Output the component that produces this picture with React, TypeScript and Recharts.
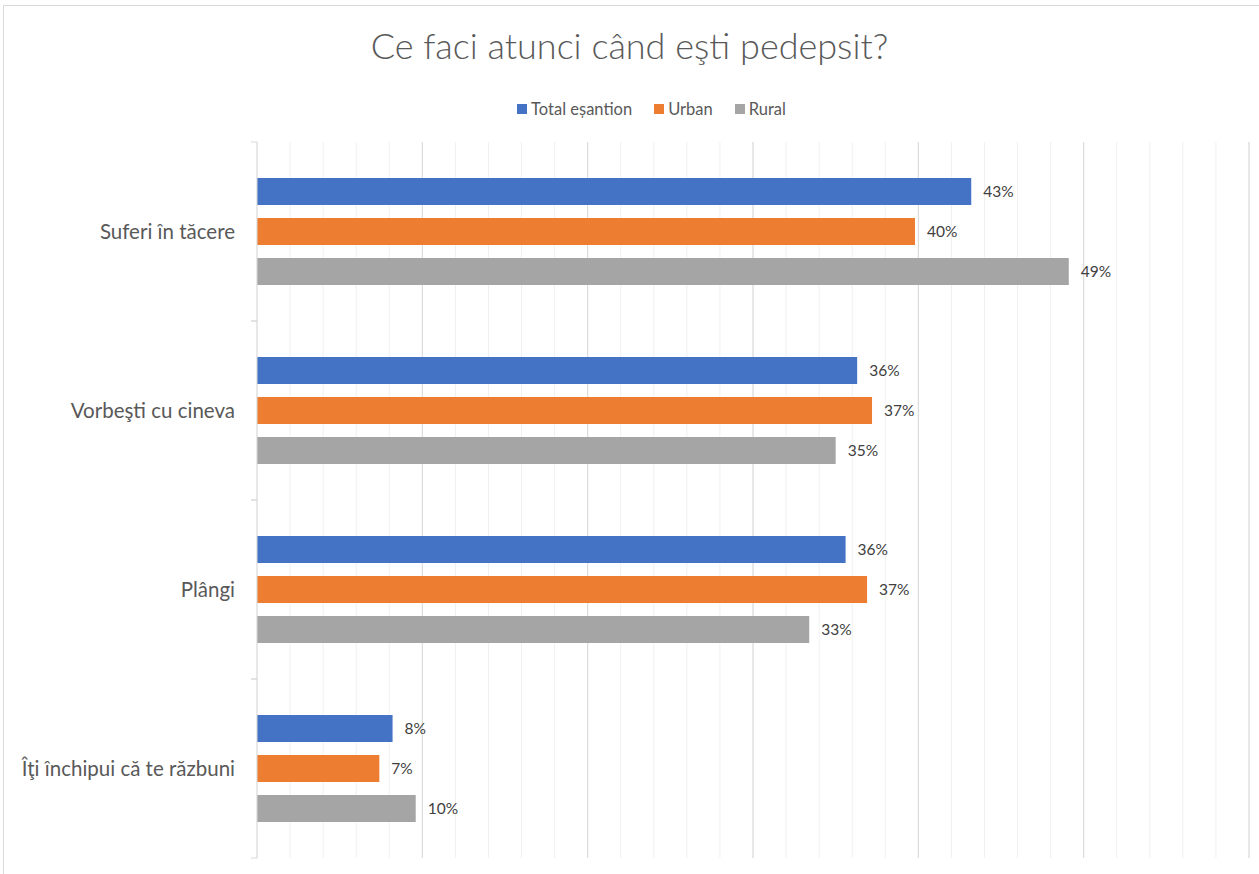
import React from "react";
import {
  BarChart,
  Bar,
  XAxis,
  YAxis,
  CartesianGrid,
  Legend,
  LabelList,
} from "recharts";

const CATEGORIES = [
  "Suferi în tăcere",
  "Vorbeşti cu cineva",
  "Plângi",
  "Îţi închipui că te răzbuni",
];
const TOTAL = [43.2, 36.3, 35.6, 8.2];
const URBAN = [39.8, 37.2, 36.9, 7.4];
const RURAL = [49.1, 35.0, 33.4, 9.6];
const SERIES_NAMES = ["Total eșantion", "Urban", "Rural"];
const SERIES_COLORS = ["#4472c4", "#ed7d31", "#a5a5a5"];
const MINOR_TICKS = [
  0, 2, 4, 6, 8, 10, 12, 14, 16, 18, 20, 22, 24, 26, 28, 30, 32, 34, 36, 38, 40,
  42, 44, 46, 48, 50, 52, 54, 56, 58, 60,
];
const MAJOR_TICKS = [10, 20, 30, 40, 50, 60];

const data = CATEGORIES.map((name, i) => ({
  name,
  total: TOTAL[i],
  urban: URBAN[i],
  rural: RURAL[i],
}));

const W = 1259;
const H = 874;
const TOP = 142;
const BOTTOM = 16;
const HALF_BAND = (H - TOP - BOTTOM) / CATEGORIES.length / 2;
const FONT = "Lato, 'Noto Sans', sans-serif";

const pct = (v: any) => `${Math.round(Number(v))}%`;

function CategoryTick(props: any) {
  const { x, y, payload } = props;
  const axisX = x + 6 + 16;
  return (
    <g>
      <line x1={axisX - 6} x2={axisX} y1={y - HALF_BAND} y2={y - HALF_BAND} stroke="#d9d9d9" />
      <line x1={axisX - 6} x2={axisX} y1={y + HALF_BAND} y2={y + HALF_BAND} stroke="#d9d9d9" />
      <text x={x} y={y} dy={7} textAnchor="end" fill="#595959" fontSize={20.5} fontFamily={FONT}>
        {payload.value}
      </text>
    </g>
  );
}

function LegendContent() {
  return (
    <div
      style={{
        display: "flex",
        justifyContent: "center",
        gap: 22,
        fontFamily: FONT,
        fontSize: 16.5,
        color: "#595959",
      }}
    >
      {SERIES_NAMES.map((n, i) => (
        <span key={n} style={{ display: "flex", alignItems: "center", gap: 4 }}>
          <span style={{ width: 10, height: 10, background: SERIES_COLORS[i], display: "inline-block" }} />
          {n}
        </span>
      ))}
    </div>
  );
}

export default function App() {
  return (
    <div style={{ position: "absolute", left: 0, top: 0, width: W, height: H, background: "#fff" }}>
      <div
        style={{
          position: "absolute",
          left: 3,
          top: 5,
          width: W - 3,
          height: H - 5,
          borderLeft: "1px solid #d9d9d9",
          borderTop: "1px solid #d9d9d9",
          boxSizing: "border-box",
        }}
      />
      <div
        style={{
          position: "absolute",
          left: 0,
          top: 23,
          width: W,
          textAlign: "center",
          fontFamily: FONT,
          fontWeight: 300,
          fontSize: 36,
          color: "#595959",
          lineHeight: "44px",
        }}
      >
        Ce faci atunci când eşti pedepsit?
      </div>
      <BarChart
        width={W}
        height={H}
        data={data}
        layout="vertical"
        margin={{ top: TOP, right: 10, bottom: BOTTOM, left: 0 }}
        barCategoryGap={36}
        barGap={13}
      >
        {/* minor gridlines every 2%, major every 10% */}
        <CartesianGrid horizontal={false} stroke="#f0f0f0" strokeWidth={1} />
        <CartesianGrid horizontal={false} stroke="#d9d9d9" strokeWidth={1} verticalValues={MAJOR_TICKS} />
        <XAxis type="number" domain={[0, 60]} ticks={MINOR_TICKS} hide />
        <YAxis
          type="category"
          dataKey="name"
          width={257}
          axisLine={{ stroke: "#d9d9d9" }}
          tickLine={false}
          tickMargin={16}
          tick={<CategoryTick />}
        />
        <Legend
          verticalAlign="middle"
          align="center"
          content={<LegendContent />}
          wrapperStyle={{ top: 99, left: 22, width: W }}
        />
        <Bar dataKey="total" name={SERIES_NAMES[0]} fill={SERIES_COLORS[0]} isAnimationActive={false}>
          <LabelList dataKey="total" position="right" offset={12} formatter={pct} fill="#404040" fontSize={15.5} fontFamily={FONT} />
        </Bar>
        <Bar dataKey="urban" name={SERIES_NAMES[1]} fill={SERIES_COLORS[1]} isAnimationActive={false}>
          <LabelList dataKey="urban" position="right" offset={12} formatter={pct} fill="#404040" fontSize={15.5} fontFamily={FONT} />
        </Bar>
        <Bar dataKey="rural" name={SERIES_NAMES[2]} fill={SERIES_COLORS[2]} isAnimationActive={false}>
          <LabelList dataKey="rural" position="right" offset={12} formatter={pct} fill="#404040" fontSize={15.5} fontFamily={FONT} />
        </Bar>
      </BarChart>
    </div>
  );
}
